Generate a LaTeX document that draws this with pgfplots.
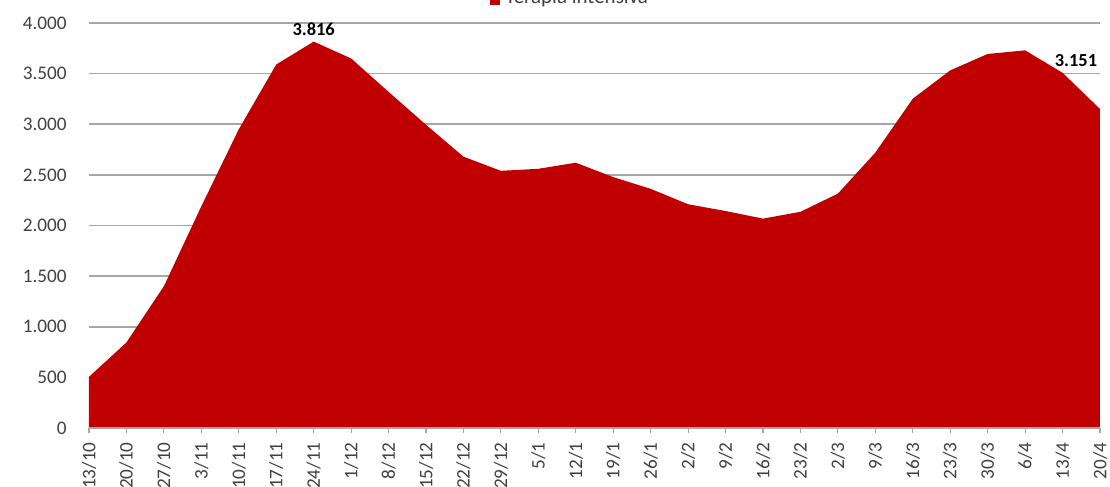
\documentclass[border=0pt]{standalone}
\usepackage{pgfplots}
\pgfplotsset{compat=1.18}
\usepackage{fontspec}
\setmainfont{Carlito}
\definecolor{areared}{HTML}{C00000}
\definecolor{gridgray}{HTML}{A6A6A6}
\definecolor{ticktext}{HTML}{404040}
\begin{document}
\begin{tikzpicture}
\begin{axis}[
  at={(0,0)}, anchor=south west,
  scale only axis,
  width=505.5pt, height=202.5pt,
  xmin=0, xmax=27, ymin=0, ymax=4000,
  axis lines*=left,
  y axis line style={draw=none},
  x axis line style={draw=gridgray, line width=0.75pt},
  xtick={0,...,27},
  xticklabels={13/10,20/10,27/10,3/11,10/11,17/11,24/11,1/12,8/12,15/12,22/12,29/12,5/1,12/1,19/1,26/1,2/2,9/2,16/2,23/2,2/3,9/3,16/3,23/3,30/3,6/4,13/4,20/4},
  ytick={0,500,...,4000},
  yticklabels={0,500,1.000,1.500,2.000,2.500,3.000,3.500,4.000},
  tick align=outside,
  major tick length=2.5pt,
  xtick style={draw=gridgray, line width=0.6pt},
  ytick style={draw=none},
  ymajorgrids,
  major grid style={draw=gridgray, line width=0.8pt},
  tick label style={font=\fontsize{9.6}{11}\selectfont, text=ticktext},
  xticklabel style={rotate=90, anchor=east, inner sep=0pt, xshift=-4.5pt},
  yticklabel style={anchor=east, inner sep=0pt, xshift=-8.5pt},
  /pgf/number format/assume math mode=true,
  clip=false,
]
\addplot[fill=areared, draw=none] coordinates {
(0,505) (1,845) (2,1400) (3,2190) (4,2950) (5,3590) (6,3816) (7,3650)
(8,3320) (9,2995) (10,2680) (11,2540) (12,2560) (13,2620) (14,2478)
(15,2362) (16,2210) (17,2143) (18,2068) (19,2135) (20,2315) (21,2720)
(22,3252) (23,3532) (24,3694) (25,3730) (26,3508) (27,3151)
} \closedcycle;
\draw[gridgray, line width=0.75pt] (axis cs:0,0) -- (axis cs:27,0);
\node[anchor=base, inner sep=0pt, yshift=3pt, font=\bfseries\fontsize{9.2}{10}\selectfont] at (axis cs:6,3816) {3.816};
\node[anchor=base, inner sep=0pt, xshift=-12pt, yshift=21pt, font=\bfseries\fontsize{9.2}{10}\selectfont] at (axis cs:27,3151) {3.151};
\end{axis}
\fill[areared] (200.5pt,211.5pt) rectangle (205.5pt,216.5pt);
\node[anchor=base west, inner sep=0pt, font=\fontsize{10.5}{12}\selectfont, text=ticktext] at (208pt,212pt) {Terapia intensiva};
\pgfresetboundingbox
\path[use as bounding box] (-44.5pt,-29.5pt) rectangle (510.5pt,214pt);
\end{tikzpicture}
\end{document}
